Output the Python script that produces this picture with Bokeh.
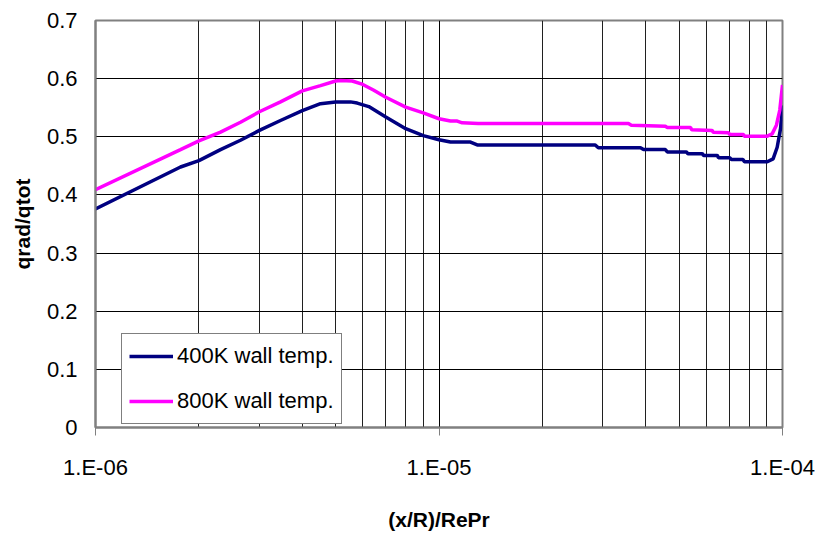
from bokeh.plotting import figure
from bokeh.models import Range1d, FixedTicker, CustomJSTickFormatter, Legend, LegendItem
from bokeh.embed import file_html
from bokeh.resources import INLINE

# ---- data ----
x_800 = [1.0e-6, 1.768e-6, 2.0e-6, 2.312e-6, 2.643e-6, 3.0e-6, 3.456e-6, 4.0e-6, 4.519e-6,
         5.0e-6, 5.168e-6, 5.588e-6, 6.0e-6, 6.46e-6, 7.0e-6, 8.0e-6, 9.0e-6, 1.0e-5,
         1.08e-5, 1.13e-5, 1.168e-5, 1.30e-5, 3.56e-5, 3.63e-5,
         4.56e-5, 4.62e-5, 5.40e-5, 5.44e-5, 6.24e-5, 6.28e-5, 6.96e-5, 7.02e-5,
         7.70e-5, 7.74e-5, 9.03e-5, 9.33e-5, 9.60e-5, 9.82e-5, 1.0e-4]
y_800 = [0.409, 0.478, 0.493, 0.508, 0.525, 0.543, 0.560, 0.579, 0.588,
         0.596, 0.597, 0.596, 0.590, 0.580, 0.568, 0.551, 0.541, 0.531,
         0.527, 0.527, 0.524, 0.523, 0.523, 0.520,
         0.518, 0.516, 0.516, 0.512, 0.511, 0.508, 0.507, 0.504,
         0.504, 0.501, 0.501, 0.505, 0.520, 0.546, 0.589]

x_400 = [1.0e-6, 1.768e-6, 2.0e-6, 2.312e-6, 2.643e-6, 3.0e-6, 3.456e-6, 4.0e-6, 4.519e-6,
         5.0e-6, 5.525e-6, 5.779e-6, 6.246e-6, 7.0e-6, 8.0e-6, 9.0e-6, 1.0e-5,
         1.08e-5, 1.235e-5, 1.292e-5, 2.85e-5, 2.91e-5, 3.86e-5,
         3.94e-5, 4.56e-5, 4.62e-5, 5.25e-5, 5.30e-5, 5.84e-5, 5.89e-5, 6.46e-5,
         6.51e-5, 7.02e-5, 7.10e-5, 7.67e-5, 7.75e-5, 9.03e-5, 9.39e-5, 9.65e-5,
         9.87e-5, 1.0e-4]
y_400 = [0.376, 0.448, 0.459, 0.478, 0.494, 0.511, 0.528, 0.545, 0.557,
         0.560, 0.560, 0.558, 0.552, 0.534, 0.514, 0.502, 0.495,
         0.491, 0.491, 0.486, 0.486, 0.481, 0.481,
         0.478, 0.478, 0.474, 0.474, 0.471, 0.471, 0.468, 0.468,
         0.464, 0.464, 0.461, 0.461, 0.457, 0.457, 0.462, 0.482,
         0.514, 0.554]

series_names = ["400K wall temp.", "800K wall temp."]
series_colors = ["#000080", "#FF00FF"]

x_major = [1e-6, 1e-5, 1e-4]
x_minor = [m * d for d in [1e-6, 1e-5] for m in range(2, 10)]
y_ticks = [0, 0.1, 0.2, 0.3, 0.4, 0.5, 0.6, 0.7]

x_title = "(x/R)/RePr"
y_title = "qrad/qtot"

FONT = "Liberation Sans"

p = figure(width=820, height=536, x_axis_type="log",
           x_range=Range1d(1e-6, 1e-4), y_range=Range1d(0, 0.7),
           output_backend="svg", toolbar_location=None,
           min_border_left=95, min_border_right=38, min_border_top=20, min_border_bottom=109)
p.background_fill_color = "white"
p.border_fill_color = "white"
p.outline_line_color = "#808080"
p.outline_line_width = 2

r400 = p.line(x_400, y_400, line_color=series_colors[0], line_width=3.5)
r800 = p.line(x_800, y_800, line_color=series_colors[1], line_width=3.5)

# axes
p.xaxis.ticker = FixedTicker(ticks=x_major, minor_ticks=x_minor)
p.xaxis.formatter = CustomJSTickFormatter(code="""
const e = Math.round(Math.log10(tick));
return "1.E" + (e < 0 ? "-" : "+") + String(Math.abs(e)).padStart(2, "0");
""")
p.yaxis.ticker = FixedTicker(ticks=y_ticks)
p.yaxis.formatter = CustomJSTickFormatter(code="""
return Math.abs(tick) < 1e-9 ? "0" : tick.toFixed(1);
""")

for ax in (p.xaxis, p.yaxis):
    ax.axis_line_color = "#808080"
    ax.axis_line_width = 2
    ax.major_label_text_font = FONT
    ax.major_label_text_font_size = "22px"
    ax.major_label_text_color = "black"
    ax.axis_label_text_font = FONT
    ax.axis_label_text_font_size = "21px"
    ax.axis_label_text_font_style = "bold"
    ax.axis_label_text_color = "black"
    ax.minor_tick_line_color = None

p.xaxis.major_tick_line_color = "#808080"
p.xaxis.major_tick_out = 8
p.xaxis.major_tick_in = 0
p.xaxis.major_label_standoff = 19
p.xaxis.axis_label = x_title
p.xaxis.axis_label_standoff = 25

p.yaxis.major_tick_line_color = None
p.yaxis.major_tick_out = 0
p.yaxis.major_tick_in = 0
p.yaxis.major_label_standoff = 18
p.yaxis.axis_label = y_title
p.yaxis.axis_label_standoff = 10

# grids
p.xgrid.grid_line_color = "#000000"
p.xgrid.grid_line_width = 1
p.xgrid.minor_grid_line_color = "#202020"
p.xgrid.minor_grid_line_width = 1
p.ygrid.grid_line_color = "#000000"
p.ygrid.grid_line_width = 1

legend = Legend(items=[LegendItem(label=series_names[0], renderers=[r400]),
                       LegendItem(label=series_names[1], renderers=[r800])],
                location=(26, 3), margin=0, padding=7, spacing=15,
                glyph_width=44, glyph_height=30, label_height=30, label_standoff=4,
                label_text_font=FONT, label_text_font_size="22px", label_text_color="black",
                border_line_color="black", border_line_width=1,
                background_fill_color="white", background_fill_alpha=1.0)
p.add_layout(legend, "center")

open("out.html", "w").write(file_html(p, INLINE))
